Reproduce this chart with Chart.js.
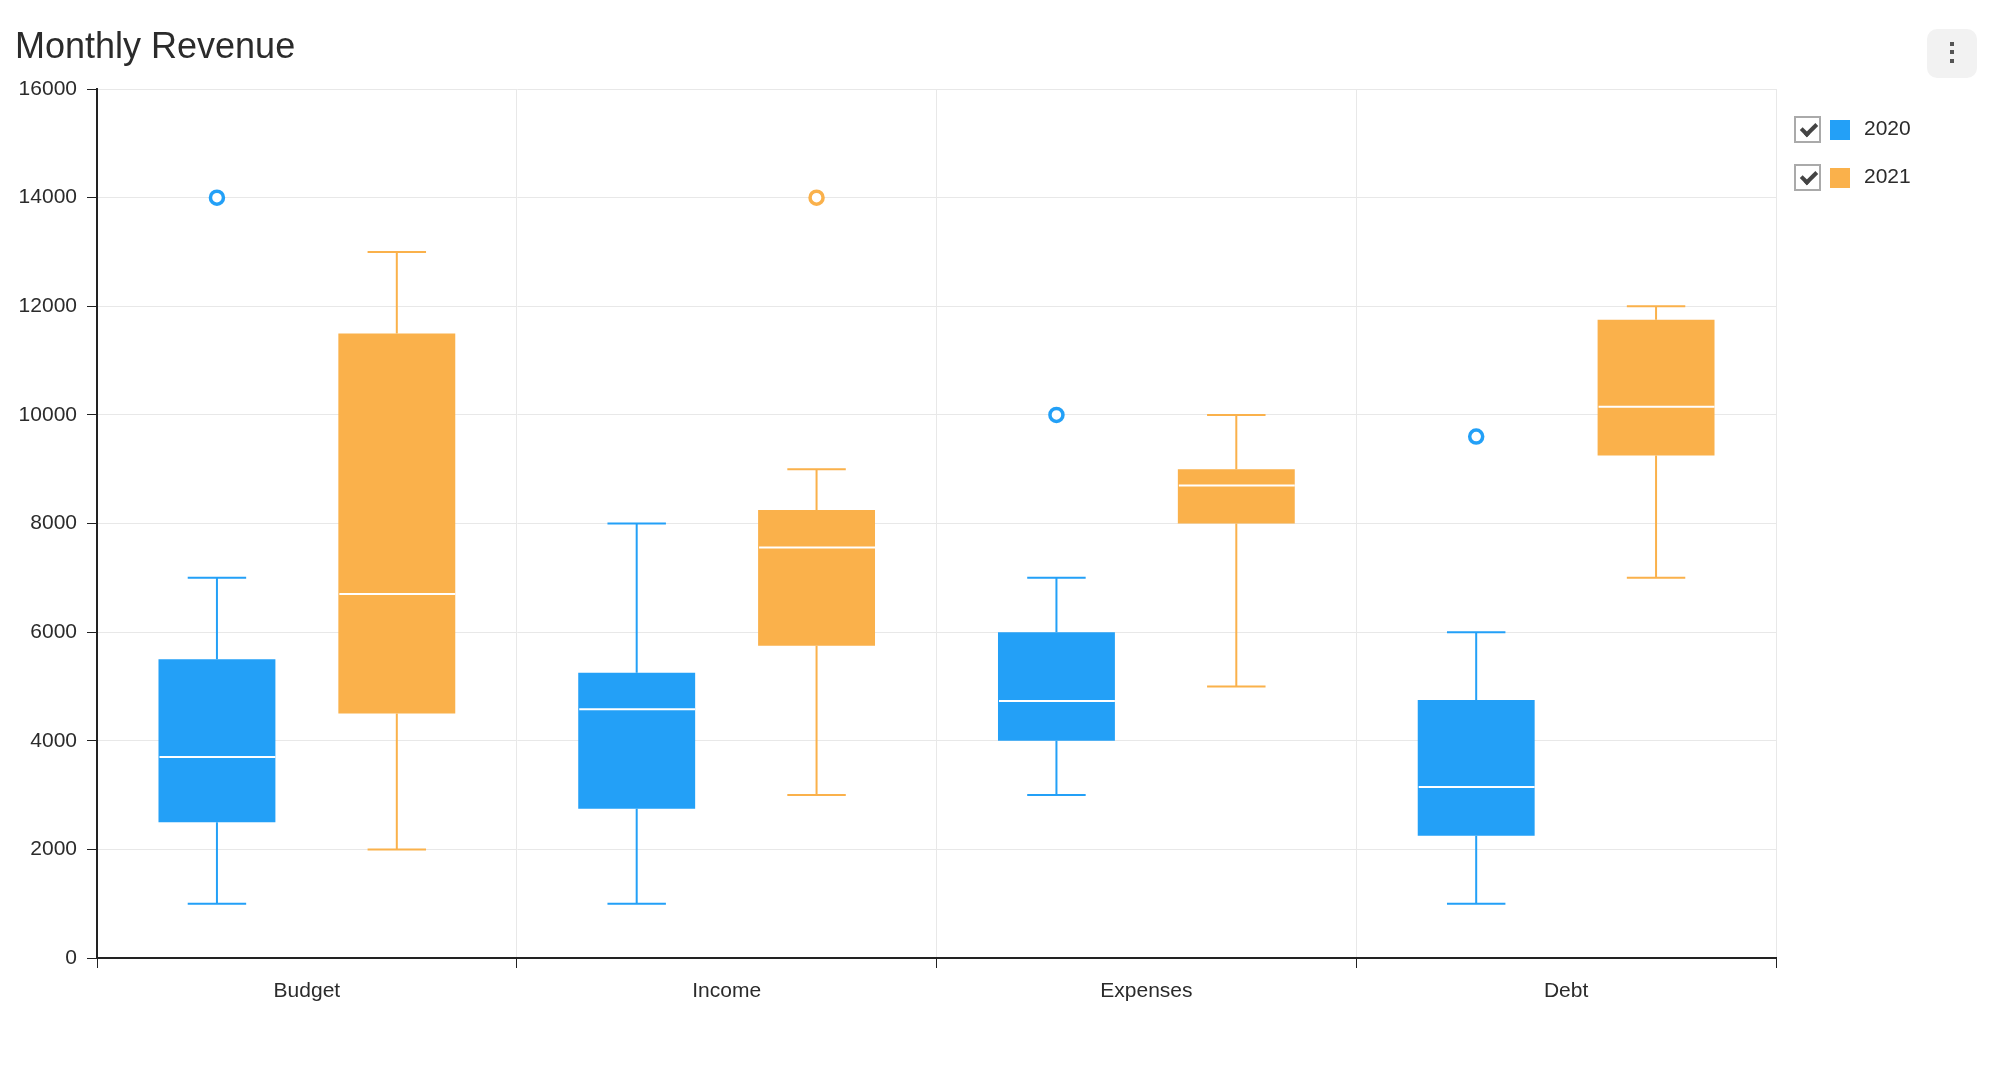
<!DOCTYPE html>
<html lang="en">
<head>
  <meta charset="UTF-8">
  <title>Monthly Revenue</title>
  <script src="https://cdn.jsdelivr.net/npm/chart.js"></script>
  <style>
    body { margin: 0; background: #fff; font-family: 'Liberation Sans', Arial, Helvetica, sans-serif; overflow: hidden; }
    #chart-wrap { position: absolute; left: 0; top: 0; width: 1994px; height: 1078px; }
    #title { position: absolute; left: 15px; top: 28px; font-size: 36px; line-height: 36px; color: #2b2b2b; }
    #menu-btn { position: absolute; left: 1927px; top: 29px; width: 50px; height: 49px; border-radius: 10px; background: #f2f2f2; }
    #menu-btn span { position: absolute; left: 23px; width: 4px; height: 4px; background: #555; }
    .legend-item { position: absolute; left: 1794px; height: 27px; display: flex; align-items: center; cursor: pointer; font-size: 21px; color: #2b2b2b; }
    .legend-item .check { width: 23px; height: 23px; border: 2px solid #aaa; position: relative; }
    .legend-item .check::after { content: ''; position: absolute; left: 8px; top: 2px; width: 6px; height: 12px; border-right: 4px solid #444; border-bottom: 4px solid #444; transform: rotate(45deg); }
    .legend-item.off .check::after { display: none; }
    .legend-item .swatch { width: 20px; height: 20px; margin-left: 9px; }
    .legend-item .label { margin-left: 14px; position: relative; top: -2px; }
  </style>
</head>
<body>
  <div id="chart-wrap"><canvas id="box-chart"></canvas></div>
  <div id="title">Monthly Revenue</div>
  <div id="menu-btn"><span style="top: 13px;"></span><span style="top: 21px;"></span><span style="top: 30px;"></span></div>
  <div id="legend"></div>

  <script>
    const categories = ['Budget', 'Income', 'Expenses', 'Debt'];
    const seriesNames = ['2020', '2021'];
    const seriesColors = ['#23a0f7', '#fab14b'];

    // 2020 box plot stats
    const min2020 = [1000, 1000, 3000, 1000];
    const q1_2020 = [2500, 2750, 4000, 2250];
    const median2020 = [3700, 4580, 4730, 3150];
    const q3_2020 = [5500, 5250, 6000, 4750];
    const max2020 = [7000, 8000, 7000, 6000];
    const outliers2020 = [[14000], [], [10000], [9600]];

    // 2021 box plot stats
    const min2021 = [2000, 3000, 5000, 7000];
    const q1_2021 = [4500, 5750, 8000, 9250];
    const median2021 = [6700, 7560, 8700, 10150];
    const q3_2021 = [11500, 8250, 9000, 11750];
    const max2021 = [13000, 9000, 10000, 12000];
    const outliers2021 = [[], [14000], [], []];

    const yTicks = [0, 2000, 4000, 6000, 8000, 10000, 12000, 14000, 16000];

    function makeDataset(i, mins, q1s, meds, q3s, maxs, outs) {
      return {
        label: seriesNames[i],
        data: q1s.map((q, j) => [q, q3s[j]]),
        backgroundColor: seriesColors[i],
        borderWidth: 0,
        borderSkipped: false,
        categoryPercentage: 0.857,
        barPercentage: 0.65,
        whiskerMin: mins,
        median: meds,
        whiskerMax: maxs,
        outliers: outs
      };
    }

    // whiskers behind the boxes, medians + outliers on top
    const boxPlotPlugin = {
      id: 'boxPlot',
      beforeDatasetsDraw(chart) {
        const ctx = chart.ctx;
        const y = chart.scales.y;
        chart.data.datasets.forEach((ds, i) => {
          const meta = chart.getDatasetMeta(i);
          if (!chart.isDatasetVisible(i)) return;
          meta.data.forEach((bar, j) => {
            const x = bar.x, half = bar.width / 4;
            const yMin = y.getPixelForValue(ds.whiskerMin[j]);
            const yMax = y.getPixelForValue(ds.whiskerMax[j]);
            const yQ1 = y.getPixelForValue(ds.data[j][0]);
            const yQ3 = y.getPixelForValue(ds.data[j][1]);
            ctx.save();
            ctx.strokeStyle = ds.backgroundColor;
            ctx.lineWidth = 2;
            ctx.beginPath();
            ctx.moveTo(x, yQ3); ctx.lineTo(x, yMax);
            ctx.moveTo(x, yQ1); ctx.lineTo(x, yMin);
            ctx.moveTo(x - half, yMax); ctx.lineTo(x + half, yMax);
            ctx.moveTo(x - half, yMin); ctx.lineTo(x + half, yMin);
            ctx.stroke();
            ctx.restore();
          });
        });
      },
      afterDatasetsDraw(chart) {
        const ctx = chart.ctx;
        const y = chart.scales.y;
        chart.data.datasets.forEach((ds, i) => {
          const meta = chart.getDatasetMeta(i);
          if (!chart.isDatasetVisible(i)) return;
          meta.data.forEach((bar, j) => {
            const x = bar.x, w = bar.width;
            const yMed = y.getPixelForValue(ds.median[j]);
            ctx.save();
            ctx.strokeStyle = '#fff';
            ctx.lineWidth = 2;
            ctx.beginPath();
            ctx.moveTo(x - w / 2 + 1, yMed); ctx.lineTo(x + w / 2, yMed);
            ctx.stroke();
            ds.outliers[j].forEach(v => {
              ctx.beginPath();
              ctx.arc(x, y.getPixelForValue(v), 6.5, 0, Math.PI * 2);
              ctx.fillStyle = '#fff';
              ctx.fill();
              ctx.lineWidth = 3.5;
              ctx.strokeStyle = ds.backgroundColor;
              ctx.stroke();
            });
            ctx.restore();
          });
        });
      }
    };

    const fontFamily = "'Liberation Sans', Arial, Helvetica, sans-serif";

    const chart = new Chart(document.getElementById('box-chart'), {
      type: 'bar',
      data: {
        labels: categories,
        datasets: [
          makeDataset(0, min2020, q1_2020, median2020, q3_2020, max2020, outliers2020),
          makeDataset(1, min2021, q1_2021, median2021, q3_2021, max2021, outliers2021)
        ]
      },
      options: {
        responsive: true,
        maintainAspectRatio: false,
        animation: false,
        layout: { padding: { top: 89, right: 218, left: 0, bottom: 0 } },
        plugins: {
          legend: { display: false },
          title: { display: false },
          tooltip: { enabled: false }
        },
        scales: {
          x: {
            grid: { color: '#e8e8e8', tickColor: '#222', tickLength: 10, offset: true },
            border: { color: '#222', width: 2 },
            ticks: { color: '#2b2b2b', padding: 11, font: { family: fontFamily, size: 21 } },
            afterFit(scale) { scale.height = 120; }
          },
          y: {
            min: 0,
            max: 16000,
            afterBuildTicks(scale) { scale.ticks = yTicks.map(v => ({ value: v })); },
            grid: { color: '#e8e8e8', tickColor: '#222', tickLength: 10 },
            border: { color: '#222', width: 2 },
            ticks: { color: '#2b2b2b', padding: 10, font: { family: fontFamily, size: 21 }, callback: v => String(v) },
            afterFit(scale) { scale.width = 97; }
          }
        }
      },
      plugins: [boxPlotPlugin]
    });

    // HTML legend with checkboxes
    const legend = document.getElementById('legend');
    seriesNames.forEach((name, i) => {
      const item = document.createElement('div');
      item.className = 'legend-item';
      item.style.top = (116 + i * 48) + 'px';
      item.innerHTML = '<span class="check"></span><span class="swatch" style="background:' + seriesColors[i] + '"></span><span class="label">' + name + '</span>';
      item.addEventListener('click', () => {
        const visible = chart.isDatasetVisible(i);
        chart.setDatasetVisibility(i, !visible);
        item.classList.toggle('off', visible);
        chart.update();
      });
      legend.appendChild(item);
    });
  </script>
</body>
</html>
